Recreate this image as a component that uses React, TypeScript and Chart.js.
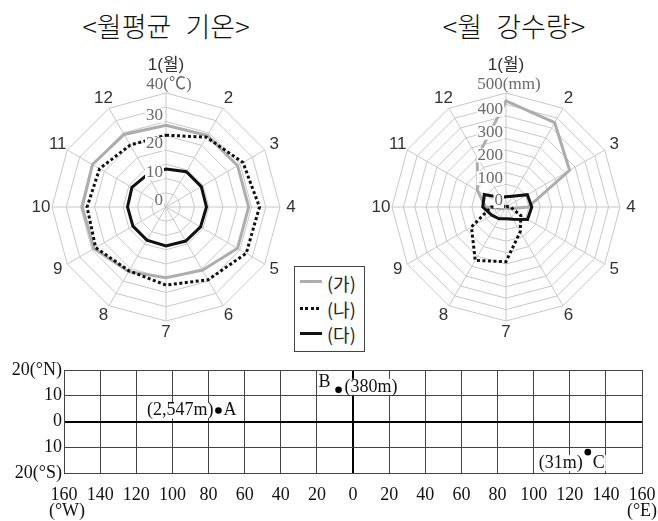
import React, { useEffect, useRef } from 'react';
import { Chart, registerables } from 'chart.js';

Chart.register(...registerables);

// ---------- data ----------
const MONTHS = ['1', '2', '3', '4', '5', '6', '7', '8', '9', '10', '11', '12'];
const MONTH_LABELS = ['1(월)', '2', '3', '4', '5', '6', '7', '8', '9', '10', '11', '12'];

// 월평균 기온 (℃)
const TEMP_GA = [28.7, 29.0, 29.0, 29.0, 29.0, 25.6, 24.8, 26.2, 29.2, 29.4, 29.8, 29.4];
const TEMP_NA = [25.2, 28.3, 31.2, 32.8, 32.5, 29.5, 27.4, 25.9, 28.5, 27.7, 26.9, 25.1];
const TEMP_DA = [13.3, 14.3, 14.3, 14.2, 14.0, 13.8, 13.7, 13.4, 13.4, 13.5, 13.8, 13.1];
const TEMP_TICKS = [0, 10, 20, 30, 40];
const TEMP_TICK_LABELS = ['0', '10', '20', '30', '40(℃)'];

// 월 강수량 (mm)
const RAIN_GA = [465, 427, 322, 97, 15, 2, 1, 2, 15, 90, 144, 252];
const RAIN_NA = [0, 0, 3, 20, 75, 125, 240, 270, 175, 65, 5, 0];
const RAIN_DA = [45, 55, 108, 113, 109, 62, 52, 60, 72, 102, 110, 48];
const RAIN_TICKS = [0, 100, 200, 300, 400, 500];
const RAIN_TICK_LABELS = ['0', '100', '200', '300', '400', '500(mm)'];

// 위치 지도
const LON_TICKS = [-160, -140, -120, -100, -80, -60, -40, -20, 0, 20, 40, 60, 80, 100, 120, 140, 160];
const LON_LABELS = ['160', '140', '120', '100', '80', '60', '40', '20', '0', '20', '40', '60', '80', '100', '120', '140', '160'];
const LAT_TICKS = [20, 10, 0, -10, -20];
const LAT_LABELS = ['20(°N)', '10', '0', '10', '20(°S)'];
const STATION_NAMES = ['A', 'B', 'C'];
const STATION_ALTS = ['(2,547m)', '(380m)', '(31m)'];
const STATION_LON = [-74.5, -8, 130];
const STATION_LAT = [4.3, 12.3, -11.9];

const LEGEND_NAMES = ['(가)', '(나)', '(다)'];

// ---------- plugins ----------
function makeRadarLabels(tickVals: number[], tickLabels: string[]) {
  return {
    id: 'radarLabels',
    afterDatasetsDraw(chart: any) {
      const s = chart.scales.r;
      const ctx = chart.ctx as CanvasRenderingContext2D;
      const cx = s.xCenter;
      const cy = s.yCenter;
      ctx.save();
      ctx.font = '17px "Liberation Serif", "Noto Sans CJK KR"';
      ctx.textBaseline = 'middle';
      ctx.textAlign = 'left';
      tickVals.forEach((v, i) => {
        const d = s.getDistanceFromCenterForValue(v);
        const text = tickLabels[i];
        const w = ctx.measureText(text).width;
        const last = i === tickVals.length - 1;
        const y = cy - d - (last ? 8 : 6);
        const left = last ? cx + 3 - w / 2 : cx - 3 - w;
        if (!last) {
          ctx.fillStyle = '#ffffff';
          ctx.fillRect(left - 1, y - 7, w + 2, 14);
        }
        ctx.fillStyle = '#6a6a6a';
        ctx.fillText(text, left, y);
      });
      ctx.font = '17px "Liberation Sans", "Noto Sans CJK KR"';
      ctx.fillStyle = '#333333';
      ctx.textAlign = 'center';
      MONTH_LABELS.forEach((lab, i) => {
        const p = s.getPointPosition(i, s.drawingArea + (i === 0 ? 28 : 11));
        ctx.fillText(lab, p.x, p.y);
      });
      ctx.restore();
    },
  };
}

const STATION_TEXT_LAYOUT = [
  { nameDx: 5, nameDy: 0, nameAlign: 'left', altDx: -5, altDy: 0, altAlign: 'right' },
  { nameDx: -8, nameDy: -8, nameAlign: 'right', altDx: 6, altDy: -3, altAlign: 'left' },
  { nameDx: 5, nameDy: 11, nameAlign: 'left', altDx: -5, altDy: 11, altAlign: 'right' },
];

function textWithBackdrop(ctx: CanvasRenderingContext2D, text: string, x: number, y: number, align: CanvasTextAlign) {
  const w = ctx.measureText(text).width;
  const left = align === 'left' ? x : align === 'right' ? x - w : x - w / 2;
  ctx.fillStyle = '#ffffff';
  ctx.fillRect(left - 1, y - 8, w + 2, 16);
  ctx.fillStyle = '#111111';
  ctx.textAlign = align;
  ctx.fillText(text, x, y);
}

const mapLabels = {
  id: 'mapLabels',
  afterDatasetsDraw(chart: any) {
    const xs = chart.scales.x;
    const ys = chart.scales.y;
    const ctx = chart.ctx as CanvasRenderingContext2D;
    ctx.save();
    ctx.fillStyle = '#111111';
    ctx.font = '18px "Liberation Serif"';
    ctx.textBaseline = 'middle';
    ctx.textAlign = 'center';
    LON_TICKS.forEach((v, i) => {
      ctx.fillText(LON_LABELS[i], xs.getPixelForValue(v), ys.bottom + 22);
    });
    ctx.fillText('(°W)', xs.getPixelForValue(LON_TICKS[0]) + 3, ys.bottom + 38);
    ctx.fillText('(°E)', xs.getPixelForValue(LON_TICKS[LON_TICKS.length - 1]), ys.bottom + 38);
    ctx.textAlign = 'right';
    LAT_TICKS.forEach((v, i) => {
      ctx.fillText(LAT_LABELS[i], xs.left - 2, ys.getPixelForValue(v));
    });
    const meta = chart.getDatasetMeta(0);
    meta.data.forEach((pt: any, i: number) => {
      const L = STATION_TEXT_LAYOUT[i];
      textWithBackdrop(ctx, STATION_NAMES[i], pt.x + L.nameDx, pt.y + L.nameDy, L.nameAlign as CanvasTextAlign);
      textWithBackdrop(ctx, STATION_ALTS[i], pt.x + L.altDx, pt.y + L.altDy, L.altAlign as CanvasTextAlign);
    });
    ctx.restore();
  },
};

// ---------- configs ----------
function radarConfig(ga: number[], na: number[], da: number[], max: number, step: number,
  tickVals: number[], tickLabels: string[], padding: any) {
  return {
    type: 'radar',
    data: {
      labels: MONTHS,
      datasets: [
        { label: '(다)', data: da, borderColor: '#111111', borderWidth: 3, fill: false, pointRadius: 0 },
        { label: '(나)', data: na, borderColor: '#111111', borderWidth: 3, borderDash: [3, 2.5], fill: false, pointRadius: 0 },
        { label: '(가)', data: ga, borderColor: '#adadad', borderWidth: 3, fill: false, pointRadius: 0 },
      ],
    },
    options: {
      animation: false,
      responsive: false,
      maintainAspectRatio: false,
      layout: { padding },
      elements: { line: { tension: 0, borderJoinStyle: 'miter', borderCapStyle: 'butt' } },
      plugins: { legend: { display: false }, tooltip: { enabled: false } },
      scales: {
        r: {
          min: 0,
          max,
          ticks: { stepSize: step, display: false },
          grid: { color: '#c8c8c8', lineWidth: 1 },
          angleLines: { color: '#c8c8c8', lineWidth: 1 },
          pointLabels: { display: false },
        },
      },
    },
    plugins: [makeRadarLabels(tickVals, tickLabels)],
  } as any;
}

function mapConfig() {
  return {
    type: 'scatter',
    data: {
      datasets: [
        {
          data: STATION_LON.map((x, i) => ({ x, y: STATION_LAT[i] })),
          pointRadius: 3.3,
          backgroundColor: '#000000',
          borderWidth: 0,
        },
      ],
    },
    options: {
      animation: false,
      responsive: false,
      maintainAspectRatio: false,
      layout: { padding: { left: 64, right: 16, top: 15, bottom: 48 } },
      plugins: { legend: { display: false }, tooltip: { enabled: false } },
      scales: {
        x: {
          type: 'linear',
          min: -160,
          max: 160,
          ticks: { stepSize: 20, display: false },
          grid: {
            drawTicks: false,
            color: (c: any) => (c.tick && c.tick.value === 0 ? '#000000' : '#444444'),
            lineWidth: (c: any) => (c.tick && c.tick.value === 0 ? 2 : 1),
          },
          border: { display: true, color: '#444444', width: 1 },
        },
        y: {
          type: 'linear',
          min: -20,
          max: 20,
          ticks: { stepSize: 10, display: false },
          grid: {
            drawTicks: false,
            color: (c: any) => (c.tick && c.tick.value === 0 ? '#000000' : '#444444'),
            lineWidth: (c: any) => (c.tick && c.tick.value === 0 ? 2 : 1),
          },
          border: { display: true, color: '#444444', width: 1 },
        },
      },
    },
    plugins: [mapLabels],
  } as any;
}

// ---------- components ----------
function ChartCanvas(props: { make: () => any; left: number; top: number; width: number; height: number }) {
  const ref = useRef<HTMLCanvasElement>(null);
  useEffect(() => {
    const chart = new Chart(ref.current as HTMLCanvasElement, props.make());
    return () => chart.destroy();
  }, []);
  return (
    <canvas
      ref={ref}
      width={props.width}
      height={props.height}
      style={{ position: 'absolute', left: props.left, top: props.top, width: props.width, height: props.height }}
    />
  );
}

function LegendBox() {
  const rowTops = [15.7, 42.3, 67.3];
  const samples = [
    { background: '#adadad' },
    { background: 'repeating-linear-gradient(to right, #111 0px, #111 3px, transparent 3px, transparent 5.5px)' },
    { background: '#111111' },
  ];
  return (
    <div
      style={{
        position: 'absolute', left: 294, top: 266, width: 71, height: 86,
        border: '1px solid #444', boxSizing: 'border-box', background: '#fff',
      }}
    >
      {LEGEND_NAMES.map((name, i) => (
        <React.Fragment key={name}>
          <div style={{ position: 'absolute', left: 5, top: rowTops[i] - 2.5, width: 22, height: 3, ...samples[i] }} />
          <div
            style={{
              position: 'absolute', left: 32, top: rowTops[i], transform: 'translateY(-50%)',
              font: '18px "Noto Sans CJK KR"', lineHeight: '1', color: '#222', whiteSpace: 'nowrap',
            }}
          >
            {name}
          </div>
        </React.Fragment>
      ))}
    </div>
  );
}

const titleStyle = (cx: number): React.CSSProperties => ({
  position: 'absolute', left: cx, top: 25, transform: 'translate(-50%, -50%)',
  fontFamily: '"Noto Sans CJK KR"', fontSize: 27, fontWeight: 300, lineHeight: '1', color: '#111',
  whiteSpace: 'nowrap', wordSpacing: '0.3em',
});

export default function App() {
  return (
    <div style={{ position: 'fixed', left: 0, top: 0, width: 658, height: 521, overflow: 'hidden', background: '#fff' }}>
      <div style={titleStyle(166)}>&lt;월평균 기온&gt;</div>
      <div style={titleStyle(514)}>&lt;월 강수량&gt;</div>
      <ChartCanvas
        left={0} top={40} width={332} height={334}
        make={() => radarConfig(TEMP_GA, TEMP_NA, TEMP_DA, 40, 5, TEMP_TICKS, TEMP_TICK_LABELS,
          { left: 52, right: 52, top: 53, bottom: 53 })}
      />
      <ChartCanvas
        left={366} top={40} width={280} height={334}
        make={() => radarConfig(RAIN_GA, RAIN_NA, RAIN_DA, 500, 50, RAIN_TICKS, RAIN_TICK_LABELS,
          { left: 26, right: 26, top: 53, bottom: 53 })}
      />
      <ChartCanvas left={0} top={355} width={658} height={166} make={mapConfig} />
      <LegendBox />
    </div>
  );
}
